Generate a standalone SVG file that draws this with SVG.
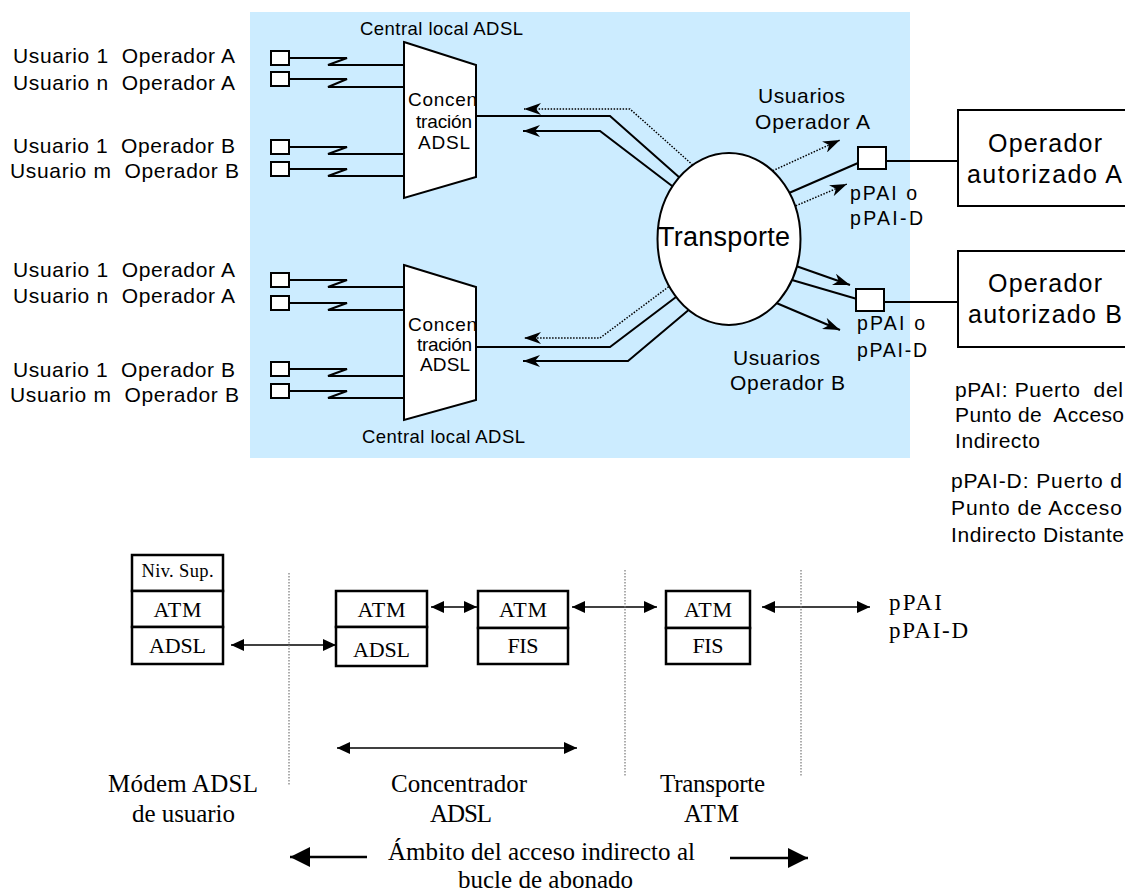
<svg xmlns="http://www.w3.org/2000/svg" width="1125" height="895" viewBox="0 0 1125 895">
<defs>
<style>
.sans{font-family:"Liberation Sans",Arial,sans-serif;fill:#000}
.serif{font-family:"Liberation Serif","Times New Roman",serif;fill:#000}
.ln{fill:none;stroke:#000;stroke-width:2}
.dot{fill:none;stroke:#000;stroke-width:1.5;stroke-dasharray:1.5 1.5}
.box{fill:#fff;stroke:#000;stroke-width:2}
.stk{fill:#fff;stroke:#000;stroke-width:2.5}
.vdot{stroke:#777;stroke-width:1.2;stroke-dasharray:1.5 1.5}
.thin{fill:none;stroke:#000;stroke-width:1.5}
.thick{fill:none;stroke:#000;stroke-width:2.5}
</style>
<marker id="st" viewBox="0 0 17 12" refX="17" refY="6" markerWidth="17" markerHeight="12" markerUnits="userSpaceOnUse" orient="auto">
<path d="M0,0 L17,6 L0,12 L5,6 z" fill="#000"/>
</marker>
<marker id="tri" viewBox="0 0 13 12" refX="13" refY="6" markerWidth="13" markerHeight="12" markerUnits="userSpaceOnUse" orient="auto-start-reverse">
<path d="M0,0 L13,6 L0,12 z" fill="#000"/>
</marker>
<marker id="big" viewBox="0 0 20 20" refX="20" refY="10" markerWidth="20" markerHeight="20" markerUnits="userSpaceOnUse" orient="auto">
<path d="M0,0 L20,10 L0,20 z" fill="#000"/>
</marker>
</defs>

<rect id="background" x="250" y="12" width="660" height="446" fill="#CCECFF"/>

<g id="connectors">
  <polyline class="ln" points="289,58 347,58 328,65 404,65"/>
  <polyline class="ln" points="289,79 347,79 328,87 404,87"/>
  <polyline class="ln" points="289,147 347,147 328,154 404,154"/>
  <polyline class="ln" points="289,169 347,169 328,176 404,176"/>
  <polyline class="ln" points="289,280 347,280 328,287 404,287"/>
  <polyline class="ln" points="289,303 347,303 328,310 404,310"/>
  <polyline class="ln" points="289,369 347,369 328,376 404,376"/>
  <polyline class="ln" points="289,391 347,391 328,398 404,398"/>
  <polyline class="ln" points="476,116 610,116 680,178"/>
  <polyline class="dot" points="695,167 630,109 524,109" marker-end="url(#st)"/>
  <polyline class="ln" points="676,189 600,131 523,131" marker-end="url(#st)"/>
  <polyline class="dot" points="671,285 600,338 524,338" marker-end="url(#st)"/>
  <polyline class="ln" points="680,294 610,347 476,347"/>
  <polyline class="ln" points="691,308 628,361 523,361" marker-end="url(#st)"/>
  <line class="dot" x1="770" y1="172" x2="840" y2="140" marker-end="url(#st)"/>
  <line class="dot" x1="793" y1="207" x2="847" y2="184" marker-end="url(#st)"/>
  <line class="ln" x1="789" y1="193" x2="858" y2="163"/>
  <line class="ln" x1="886" y1="161" x2="958" y2="161"/>
  <line class="ln" x1="796" y1="266" x2="850" y2="285" marker-end="url(#st)"/>
  <line class="ln" x1="792" y1="280" x2="857" y2="299"/>
  <line class="ln" x1="774" y1="302" x2="840" y2="330" marker-end="url(#st)"/>
  <line class="ln" x1="884" y1="302" x2="958" y2="302"/>
  <line class="thin" x1="231" y1="645" x2="336" y2="645" marker-start="url(#tri)" marker-end="url(#tri)"/>
  <line class="thin" x1="431" y1="607" x2="477" y2="607" marker-start="url(#tri)" marker-end="url(#tri)"/>
  <line class="thin" x1="572" y1="607" x2="657" y2="607" marker-start="url(#tri)" marker-end="url(#tri)"/>
  <line class="thin" x1="762" y1="607" x2="870" y2="607" marker-start="url(#tri)" marker-end="url(#tri)"/>
  <line class="thin" x1="337" y1="748" x2="577" y2="748" marker-start="url(#tri)" marker-end="url(#tri)"/>
  <line class="thick" x1="367" y1="857" x2="290" y2="857" marker-end="url(#big)"/>
  <line class="thick" x1="730" y1="858" x2="808" y2="858" marker-end="url(#big)"/>
  <line class="vdot" x1="289" y1="573" x2="289" y2="785"/>
  <line class="vdot" x1="625" y1="570" x2="625" y2="777"/>
  <line class="vdot" x1="801" y1="570" x2="801" y2="777"/>
</g>

<g id="users-top" class="sans" font-size="21">
  <text x="13" y="63" textLength="222" xml:space="preserve">Usuario 1  Operador A</text>
  <text x="13" y="90" textLength="222" xml:space="preserve">Usuario n  Operador A</text>
  <text x="13" y="153" textLength="222" xml:space="preserve">Usuario 1  Operador B</text>
  <text x="10" y="178" textLength="229" xml:space="preserve">Usuario m  Operador B</text>
</g>
<g id="users-bottom" class="sans" font-size="21">
  <text x="13" y="277" textLength="222" xml:space="preserve">Usuario 1  Operador A</text>
  <text x="13" y="303" textLength="222" xml:space="preserve">Usuario n  Operador A</text>
  <text x="13" y="377" textLength="222" xml:space="preserve">Usuario 1  Operador B</text>
  <text x="10" y="402" textLength="229" xml:space="preserve">Usuario m  Operador B</text>
</g>

<g id="modems-top">
  <rect class="box" x="271" y="51" width="18" height="14"/>
  <rect class="box" x="271" y="72" width="18" height="14"/>
  <rect class="box" x="271" y="140" width="18" height="14"/>
  <rect class="box" x="271" y="162" width="18" height="14"/>
</g>
<g id="modems-bottom">
  <rect class="box" x="271" y="273" width="18" height="14"/>
  <rect class="box" x="271" y="296" width="18" height="14"/>
  <rect class="box" x="271" y="362" width="18" height="14"/>
  <rect class="box" x="271" y="384" width="18" height="14"/>
</g>

<g id="concentrador-top">
  <polygon class="box" points="404,42 476,65 476,177 404,198"/>
  <text class="sans" font-size="19" x="408" y="106" textLength="69">Concen</text>
  <text class="sans" font-size="19" x="416" y="128" textLength="56">tración</text>
  <text class="sans" font-size="19" x="418" y="149" textLength="52">ADSL</text>
  <text class="sans" font-size="18.5" x="360" y="35" textLength="163">Central local ADSL</text>
</g>
<g id="concentrador-bottom">
  <polygon class="box" points="404,265 476,287 476,400 404,420"/>
  <text class="sans" font-size="19" x="408" y="331" textLength="69">Concen</text>
  <text class="sans" font-size="19" x="417" y="351" textLength="55">tración</text>
  <text class="sans" font-size="19" x="420" y="371" textLength="50">ADSL</text>
  <text class="sans" font-size="18.5" x="362" y="443" textLength="163">Central local ADSL</text>
</g>

<g id="transporte">
  <ellipse class="box" cx="729" cy="239" rx="71.5" ry="86"/>
  <text class="sans" font-size="27" x="658" y="246" textLength="132">Transporte</text>
</g>

<g id="usuarios-a" class="sans" font-size="21">
  <text x="758" y="103" textLength="87">Usuarios</text>
  <text x="755" y="129" textLength="115">Operador A</text>
</g>
<g id="usuarios-b" class="sans" font-size="21">
  <text x="733" y="365" textLength="87">Usuarios</text>
  <text x="730" y="390" textLength="115">Operador B</text>
</g>

<g id="ppai-a">
  <rect class="box" x="858" y="147" width="28" height="22"/>
  <text class="sans" font-size="19.5" x="850" y="200" textLength="67">pPAI o</text>
  <text class="sans" font-size="19.5" x="850" y="225" textLength="73">pPAI-D</text>
</g>
<g id="ppai-b">
  <rect class="box" x="856" y="289" width="28" height="22"/>
  <text class="sans" font-size="19.5" x="857" y="330" textLength="68">pPAI o</text>
  <text class="sans" font-size="19.5" x="857" y="357" textLength="70">pPAI-D</text>
</g>

<g id="operador-a">
  <rect class="box" x="958" y="110" width="190" height="96"/>
  <text class="sans" font-size="25" x="988" y="152" textLength="114">Operador</text>
  <text class="sans" font-size="25" x="967" y="183" textLength="155">autorizado A</text>
</g>
<g id="operador-b">
  <rect class="box" x="958" y="251" width="190" height="96"/>
  <text class="sans" font-size="25" x="988" y="292" textLength="114">Operador</text>
  <text class="sans" font-size="25" x="968" y="323" textLength="154">autorizado B</text>
</g>

<g id="notas" class="sans" font-size="21">
  <text x="955" y="397" textLength="168" xml:space="preserve">pPAI: Puerto  del</text>
  <text x="955" y="422" textLength="169" xml:space="preserve">Punto de  Acceso</text>
  <text x="955" y="448" textLength="85">Indirecto</text>
  <text x="951" y="488" textLength="171">pPAI-D: Puerto d</text>
  <text x="951" y="515" textLength="171">Punto de Acceso</text>
  <text x="951" y="542" textLength="173">Indirecto Distante</text>
</g>

<g id="pila-modem" class="serif" font-size="22" text-anchor="middle">
  <rect class="stk" x="132" y="555" width="91" height="36"/>
  <rect class="stk" x="132" y="591" width="91" height="36"/>
  <rect class="stk" x="132" y="627" width="91" height="37"/>
  <text x="177.5" y="577" font-size="18.5" textLength="72">Niv. Sup.</text>
  <text x="177.5" y="617" textLength="48">ATM</text>
  <text x="177.5" y="653" textLength="57">ADSL</text>
</g>
<g id="pila-concentrador-adsl" class="serif" font-size="22" text-anchor="middle">
  <rect class="stk" x="336" y="591" width="91" height="36"/>
  <rect class="stk" x="336" y="627" width="91" height="39"/>
  <text x="381.5" y="617" textLength="48">ATM</text>
  <text x="381.5" y="657" textLength="57">ADSL</text>
</g>
<g id="pila-concentrador-fis" class="serif" font-size="22" text-anchor="middle">
  <rect class="stk" x="478" y="591" width="90" height="37"/>
  <rect class="stk" x="478" y="628" width="90" height="36"/>
  <text x="523" y="617" textLength="48">ATM</text>
  <text x="523" y="653" textLength="31">FIS</text>
</g>
<g id="pila-transporte" class="serif" font-size="22" text-anchor="middle">
  <rect class="stk" x="666" y="591" width="84" height="37"/>
  <rect class="stk" x="666" y="628" width="84" height="36"/>
  <text x="708" y="617" textLength="48">ATM</text>
  <text x="708" y="653" textLength="31">FIS</text>
</g>

<g id="ppai-label" class="serif" font-size="23">
  <text x="889" y="610" textLength="53">pPAI</text>
  <text x="889" y="638" textLength="79">pPAI-D</text>
</g>

<g id="etiquetas" class="serif" font-size="25">
  <text x="108" y="792" textLength="150">Módem ADSL</text>
  <text x="132" y="822" textLength="103">de usuario</text>
  <text x="391" y="792" textLength="136">Concentrador</text>
  <text x="430" y="822" textLength="62">ADSL</text>
  <text x="660" y="792" textLength="105">Transporte</text>
  <text x="684" y="822" textLength="55">ATM</text>
  <text x="388" y="860" textLength="307">Ámbito del acceso indirecto al</text>
  <text x="458" y="888" textLength="175">bucle de abonado</text>
</g>
</svg>
